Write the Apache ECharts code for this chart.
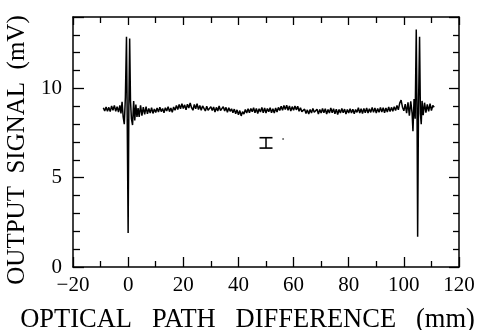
<!DOCTYPE html>
<html>
<head>
<meta charset="utf-8">
<script src="https://cdn.jsdelivr.net/npm/echarts@6/dist/echarts.min.js"></script>
<style>html,body{margin:0;padding:0;background:#fff}#c{width:487px;height:330px}</style>
</head>
<body>
<div id="c"></div>
<script>
// X tick labels and axis ranges
const xTicks = [-20, 0, 20, 40, 60, 80, 100, 120];
const yTicks = [0, 5, 10];

// Baseline segment A: x = -9 ... -3.5 (step 0.5)
const segAStart = -9, segAStep = 0.5;
const segA = [8.92, 8.74, 8.96, 8.72, 8.94, 8.70, 9.02, 8.78, 9.05, 8.72, 8.98, 8.68];

// Interferogram burst near zero path difference: [x, y]
const burstLeft = [
  [-3.0, 9.05], [-2.6, 8.6], [-2.2, 9.25], [-1.8, 8.4], [-1.4, 8.0], [-1.0, 9.5],
  [-0.6, 12.9], [-0.35, 8.6], [0.0, 1.9], [0.25, 8.8], [0.55, 12.8], [0.85, 9.3],
  [1.2, 8.3], [1.6, 7.95], [2.0, 9.3], [2.4, 8.2], [2.8, 9.1], [3.2, 8.4], [3.6, 8.9]
];

// Baseline segment B: x = 4 ... 102.5 (step 0.5)
const segBStart = 4, segBStep = 0.5;
const segB = [
  8.40, 9.05, 8.48, 8.95, 8.55, 8.98, 8.58, 8.88, 8.62, 8.92, 8.60, 8.85, 8.65,
  8.90, 8.68, 8.95, 8.70, 8.88, 8.64, 8.92, 8.74, 8.98, 8.70, 8.90, 8.66, 8.96, 8.78,
  9.05, 8.82, 9.10, 8.86, 9.15, 8.88, 9.08, 8.80, 9.12, 8.90, 9.18, 8.92, 8.78, 9.10, 8.86, 9.14, 8.82, 9.04, 8.78, 9.02,
  8.92, 8.74, 9.00, 8.78, 8.70, 8.98, 8.76, 8.96, 8.68, 8.94, 8.74, 9.02, 8.76, 8.68, 8.98, 8.74, 8.94, 8.66, 8.92, 8.72,
  8.86, 8.64, 8.84, 8.58, 8.80, 8.52, 8.76, 8.46, 8.70, 8.56, 8.82, 8.62, 8.86, 8.64, 8.88, 8.70,
  8.92, 8.64, 8.88, 8.60, 8.86, 8.68, 8.94, 8.64, 8.90, 8.62, 8.88, 8.70, 8.92, 8.64, 8.86, 8.62, 8.90, 8.68, 8.94, 8.76,
  9.00, 8.78, 9.04, 8.82, 9.06, 8.78, 9.02, 8.74, 8.98, 8.78, 9.02, 8.80, 9.00, 8.72, 8.92, 8.70,
  8.62, 8.84, 8.60, 8.80, 8.56, 8.82, 8.62, 8.88, 8.66, 8.58, 8.84, 8.56, 8.82, 8.62, 8.88, 8.64, 8.86, 8.56, 8.82, 8.62, 8.90, 8.64, 8.86, 8.58, 8.84, 8.54, 8.82, 8.62, 8.88, 8.64, 8.84, 8.56, 8.82, 8.62,
  8.86, 8.62, 8.84, 8.58, 8.82, 8.66, 8.92, 8.62, 8.86, 8.60, 8.88, 8.64, 8.90, 8.62, 8.86, 8.66, 8.94, 8.66, 8.90, 8.62, 8.88, 8.66, 8.94, 8.68, 8.92, 8.64, 8.90, 8.68, 8.96, 8.70, 8.94, 8.72,
  8.98, 8.76, 9.04, 8.80, 9.18, 9.35, 8.95, 8.75, 9.12, 8.62, 9.22, 8.48, 9.28
];

// Second burst near 105 mm: [x, y]
const burstRight = [
  [103.0, 8.6], [103.3, 7.6], [103.7, 9.4], [104.1, 8.3], [104.5, 13.3], [104.8, 8.2],
  [105.0, 1.7], [105.3, 8.8], [105.7, 12.9], [106.0, 8.6], [106.3, 8.0], [106.6, 9.3], [107.0, 8.5]
];

// Baseline segment C: x = 107.5 ... 111 (step 0.5)
const segCStart = 107.5, segCStep = 0.5;
const segC = [9.20, 8.65, 9.10, 8.72, 9.15, 8.76, 9.05, 8.95];

// Error bar: x, low, high
const errX = 50, errLow = 6.66, errHigh = 7.24;
const dotPoint = [56.2, 7.17];

function seg(start, step, vals) { return vals.map((v, i) => [start + i * step, v]); }
const signal = [].concat(seg(segAStart, segAStep, segA), burstLeft, seg(segBStart, segBStep, segB), burstRight, seg(segCStart, segCStep, segC));

const FONT = '"Liberation Serif", "Times New Roman", serif';
const axisLine = { show: true, onZero: false, lineStyle: { color: '#000', width: 1.5 } };
const chart = echarts.init(document.getElementById('c'), null, { renderer: 'canvas' });
chart.setOption({
  animation: false,
  backgroundColor: '#fff',
  grid: { left: 73, right: 28, top: 17, bottom: 63, outerBoundsMode: 'none', containLabel: false },
  xAxis: [
    {
      type: 'value', min: -20, max: 120, interval: 20, position: 'bottom',
      axisLine, splitLine: { show: false },
      axisTick: { inside: true, length: 10, lineStyle: { color: '#000', width: 1.3 } },
      minorTick: { show: true, splitNumber: 2, length: 6, lineStyle: { color: '#000', width: 1.3 } },
      axisLabel: { color: '#000', fontFamily: FONT, fontSize: 21, margin: 8,
        formatter: v => xTicks.includes(v) ? (v < 0 ? '\u2212' + Math.abs(v) : String(v)) : '' },
      name: 'OPTICAL   PATH   DIFFERENCE   (mm)', nameLocation: 'middle', nameGap: 40,
      nameTextStyle: { color: '#000', fontFamily: FONT, fontSize: 26.5, padding: [0, 37, 0, 0] }
    },
    {
      type: 'value', min: -20, max: 120, interval: 20, position: 'top',
      axisLine, splitLine: { show: false }, axisLabel: { show: false },
      axisTick: { inside: true, length: 8, lineStyle: { color: '#000', width: 1.3 } },
      minorTick: { show: true, splitNumber: 2, length: 6, lineStyle: { color: '#000', width: 1.3 } }
    }
  ],
  yAxis: [
    {
      type: 'value', min: 0, max: 14, interval: 5, position: 'left',
      axisLine, splitLine: { show: false },
      axisTick: { inside: true, length: 11, lineStyle: { color: '#000', width: 1.3 } },
      minorTick: { show: true, splitNumber: 5, length: 7, lineStyle: { color: '#000', width: 1.3 } },
      axisLabel: { color: '#000', fontFamily: FONT, fontSize: 21, margin: 11,
        formatter: v => yTicks.includes(v) ? String(v) : '' },
      name: 'OUTPUT  SIGNAL  (mV)', nameLocation: 'middle', nameGap: 43,
      nameTextStyle: { color: '#000', fontFamily: FONT, fontSize: 25, padding: [0, 16, 0, 0] }
    },
    {
      type: 'value', min: 0, max: 14, interval: 5, position: 'right',
      axisLine, splitLine: { show: false }, axisLabel: { show: false },
      axisTick: { inside: true, length: 10, lineStyle: { color: '#000', width: 1.3 } },
      minorTick: { show: true, splitNumber: 5, length: 6, lineStyle: { color: '#000', width: 1.3 } }
    }
  ],
  series: [
    {
      type: 'line', data: signal, showSymbol: false, symbol: 'none',
      lineStyle: { color: '#000', width: 1.5 }, xAxisIndex: 0, yAxisIndex: 0, z: 3
    },
    {
      type: 'line', data: [[errX, errLow], [errX, errHigh]],
      symbol: 'rect', symbolSize: [13, 1.6], showSymbol: true, showAllSymbol: true,
      itemStyle: { color: '#000' }, lineStyle: { color: '#000', width: 1.5 }
    },
    {
      type: 'scatter', data: [dotPoint], symbolSize: 2, itemStyle: { color: '#444' }
    }
  ]
});
</script>
</body>
</html>
